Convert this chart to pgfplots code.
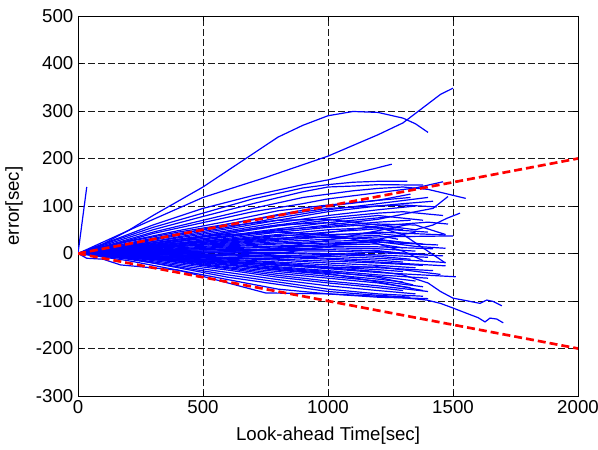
\documentclass[border=0pt]{standalone}
\usepackage{pgfplots}
\pgfplotsset{compat=1.18}
\usepackage{fontspec}
\setmainfont{Liberation Sans}
\pgfplotscreateplotcyclelist{bl}{blue,mark=none,line width=0.9pt\\}
\begin{document}
\begin{tikzpicture}
\begin{axis}[
 scale only axis, width=375pt, height=285pt,
 xmin=0, xmax=2000, ymin=-300, ymax=500,
 xtick={0,500,1000,1500,2000}, ytick={-300,-200,-100,0,100,200,300,400,500},
 scaled ticks=false,
 /pgf/number format/1000 sep={},
 grid=major,
 major grid style={black!90, dash pattern=on 5pt off 2.5pt, line width=0.6pt},
 tick align=inside, major tick length=4pt,
 tick style={black, line width=0.5pt},
 axis line style={black, line width=0.6pt},
 xlabel={Look-ahead Time[sec]}, ylabel={error[sec]},
 xlabel shift=3pt, ylabel shift=3pt,
 tick label style={font=\fontsize{14}{16}\selectfont},
 label style={font=\fontsize{14}{16}\selectfont},
 /pgf/number format/assume math mode=true,
 cycle list name=bl,
]
% upper lines
\addplot coordinates {(0,0)(100,20)(200,48)(300,80)(400,110)(500,140)(600,175)(700,210)(800,245)(900,270)(1000,290)(1100,299)(1200,297)(1300,285)(1350,273)(1400,255)};
\addplot coordinates {(0,0)(250,60)(500,118)(750,160)(1000,205)(1200,250)(1300,275)(1400,315)(1450,335)(1500,348)};
\addplot coordinates {(0,0)(150,30)(300,60)(500,95)(700,122)(900,145)(1000,155)(1100,168)(1180,178)(1255,188)};
\addplot coordinates {(0,0)(150,28)(300,55)(500,85)(700,115)(900,138)(1000,145)(1100,150)(1200,152)(1317,152)};
\addplot coordinates {(0,0)(150,25)(300,50)(500,78)(700,105)(900,130)(1000,140)(1100,142)(1200,145)(1380,144)};
\addplot coordinates {(0,0)(150,22)(300,45)(500,70)(700,95)(900,118)(1000,125)(1100,132)(1200,137)(1300,140)(1400,135)(1480,125)(1551,116)};
\addplot coordinates {(0,0)(150,20)(300,42)(500,65)(700,88)(900,105)(1000,115)(1200,128)(1350,138)(1460,151)};
\addplot coordinates {(0,0)(200,26)(400,48)(600,68)(800,90)(1000,102)(1200,112)(1330,118)};
\addplot coordinates {(0,0)(200,25)(400,45)(600,62)(800,80)(1000,95)(1200,100)(1300,102)(1435,98)};
\addplot coordinates {(0,0)(200,22)(400,42)(600,58)(800,70)(1000,72)(1200,60)(1350,50)(1420,60)(1475,74)(1528,85)};
\addplot coordinates {(0,0)(35,140)};
% fan
\addplot coordinates {(0,0)(200,20)(400,40)(600,62)(800,82)(1000,100)(1200,112)(1330,125)};
\addplot coordinates {(0,0)(200,18)(400,38)(600,55)(800,75)(1000,92)(1200,105)(1400,118)};
\addplot coordinates {(0,0)(200,15)(400,35)(600,52)(800,70)(1000,88)(1200,100)(1300,105)(1420,110)};
\addplot coordinates {(0,0)(200,17)(400,33)(600,48)(800,65)(1000,80)(1200,92)(1350,100)};
\addplot coordinates {(0,0)(200,12)(400,30)(600,45)(800,60)(1000,75)(1200,85)(1300,88)(1460,80)};
\addplot coordinates {(0,0)(200,14)(400,28)(600,42)(800,58)(1000,70)(1200,80)(1380,70)};
\addplot coordinates {(0,0)(200,10)(400,25)(600,38)(800,52)(1000,65)(1200,75)(1250,78)};
\addplot coordinates {(0,0)(200,12)(400,22)(600,35)(800,48)(1000,60)(1200,72)(1350,88)(1420,95)(1480,120)};
\addplot coordinates {(0,0)(200,8)(400,20)(600,32)(800,45)(1000,55)(1200,62)(1350,60)(1470,40)};
\addplot coordinates {(0,0)(200,10)(400,22)(600,30)(800,40)(1000,50)(1200,55)(1300,50)};
\addplot coordinates {(0,0)(200,6)(400,16)(600,26)(800,36)(1000,45)(1200,52)(1400,45)};
\addplot coordinates {(0,0)(200,9)(400,18)(600,28)(800,38)(1000,40)(1200,42)(1330,35)};
\addplot coordinates {(0,0)(200,5)(400,14)(600,24)(800,32)(1000,38)(1200,45)(1470,39)};
\addplot coordinates {(0,0)(200,7)(400,15)(600,20)(800,28)(1000,35)(1200,38)(1280,30)};
\addplot coordinates {(0,0)(200,4)(400,12)(600,18)(800,25)(1000,30)(1200,35)(1500,37)};
\addplot coordinates {(0,0)(200,6)(400,10)(600,16)(800,22)(1000,26)(1200,28)(1380,20)};
\addplot coordinates {(0,0)(200,3)(400,8)(600,14)(800,20)(1000,22)(1200,25)(1350,15)(1470,11)};
\addplot coordinates {(0,0)(200,5)(400,9)(600,12)(800,16)(1000,18)(1200,20)(1300,12)};
\addplot coordinates {(0,0)(200,2)(400,6)(600,10)(800,14)(1000,15)(1200,14)(1420,10)};
\addplot coordinates {(0,0)(200,4)(400,7)(600,8)(800,10)(1000,12)(1200,10)(1350,5)};
\addplot coordinates {(0,0)(200,1)(400,4)(600,6)(800,8)(1000,8)(1200,6)(1300,0)};
\addplot coordinates {(0,0)(200,3)(400,5)(600,5)(800,6)(1000,5)(1200,2)(1460,-5)};
\addplot coordinates {(0,0)(200,0)(400,2)(600,3)(800,2)(1000,0)(1200,-3)(1400,-8)};
\addplot coordinates {(0,0)(200,2)(400,3)(600,1)(800,0)(1000,-2)(1200,-6)(1330,-12)};
\addplot coordinates {(0,0)(200,-1)(400,0)(600,-2)(800,-4)(1000,-6)(1200,-10)(1470,-19)};
\addplot coordinates {(0,0)(200,1)(400,-1)(600,-3)(800,-6)(1000,-10)(1200,-14)(1300,-18)};
\addplot coordinates {(0,0)(200,-2)(400,-3)(600,-5)(800,-8)(1000,-12)(1200,-18)(1470,-26)};
\addplot coordinates {(0,0)(200,-1)(400,-4)(600,-8)(800,-12)(1000,-16)(1200,-20)(1380,-25)};
\addplot coordinates {(0,0)(200,-3)(400,-6)(600,-10)(800,-14)(1000,-20)(1200,-25)(1350,-30)};
\addplot coordinates {(0,0)(200,-2)(400,-7)(600,-12)(800,-18)(1000,-24)(1200,-30)(1420,-36)};
\addplot coordinates {(0,0)(200,-4)(400,-9)(600,-14)(800,-20)(1000,-28)(1200,-34)(1300,-38)};
\addplot coordinates {(0,0)(200,-3)(400,-10)(600,-16)(800,-24)(1000,-32)(1200,-40)(1511,-49)};
\addplot coordinates {(0,0)(200,-5)(400,-12)(600,-20)(800,-28)(1000,-36)(1200,-45)(1400,-52)};
\addplot coordinates {(0,0)(200,-4)(400,-13)(600,-22)(800,-32)(1000,-40)(1200,-48)(1350,-58)};
\addplot coordinates {(0,0)(200,-6)(400,-15)(600,-25)(800,-35)(1000,-44)(1200,-54)(1300,-60)};
\addplot coordinates {(0,0)(200,-5)(400,-16)(600,-28)(800,-38)(1000,-48)(1200,-58)(1380,-70)};
\addplot coordinates {(0,0)(200,-7)(400,-18)(600,-30)(800,-42)(1000,-52)(1200,-62)(1330,-72)};
\addplot coordinates {(0,0)(200,-6)(400,-19)(600,-32)(800,-46)(1000,-58)(1200,-68)(1400,-80)};
\addplot coordinates {(0,0)(200,-8)(400,-22)(600,-35)(800,-50)(1000,-62)(1200,-72)(1300,-78)};
\addplot coordinates {(0,0)(200,-10)(400,-25)(600,-40)(800,-55)(1000,-68)(1200,-78)(1350,-85)};
\addplot coordinates {(0,0)(200,-12)(400,-28)(600,-45)(800,-60)(1000,-75)(1200,-85)(1380,-90)};
\addplot coordinates {(0,0)(200,-10)(400,-30)(600,-50)(800,-65)(1000,-80)(1200,-88)(1330,-92)};
\addplot coordinates {(0,0)(35,-10)(100,-12)(170,-24)(400,-35)(550,-55)(750,-83)(1000,-85)(1200,-92)(1400,-95)};
% extra core lines
\addplot coordinates {(0,0)(200,8)(400,17)(600,22)(800,30)(1000,44)(1200,58)(1400,66)(1480,62)};
\addplot coordinates {(0,0)(200,-4)(400,-2)(600,4)(800,10)(1000,20)(1200,24)(1440,18)};
\addplot coordinates {(0,0)(200,2)(400,-4)(600,-10)(800,-10)(1000,-4)(1200,4)(1400,-2)};
\addplot coordinates {(0,0)(200,-6)(400,-12)(600,-18)(800,-30)(1000,-38)(1200,-50)(1340,-66)};
\addplot coordinates {(0,0)(200,10)(400,20)(600,28)(800,32)(1000,34)(1200,30)(1320,22)};
\addplot coordinates {(0,0)(200,-3)(400,-8)(600,-17)(800,-22)(1000,-30)(1200,-28)(1450,-44)};
\addplot coordinates {(0,0)(200,12)(400,26)(600,36)(800,50)(1000,57)(1200,66)(1330,70)};
\addplot coordinates {(0,0)(200,-8)(400,-14)(600,-24)(800,-34)(1000,-42)(1200,-60)(1380,-78)};
% crossing lines
\addplot coordinates {(0,0)(200,15)(400,30)(600,40)(800,45)(1000,40)(1200,20)(1300,5)(1380,-15)};
\addplot coordinates {(0,0)(200,-10)(400,-15)(600,-10)(800,0)(1000,15)(1200,30)(1350,45)};
\addplot coordinates {(0,0)(200,10)(400,25)(600,45)(800,60)(1000,65)(1200,55)(1300,40)(1470,-20)};
\addplot coordinates {(0,0)(200,-6)(400,-8)(600,0)(800,12)(1000,28)(1200,48)(1330,62)};
% long lower lines
\addplot coordinates {(0,0)(200,-5)(400,-12)(600,-18)(800,-25)(1000,-30)(1200,-38)(1300,-45)(1400,-62)(1450,-80)(1500,-94)(1560,-100)(1608,-105)(1635,-98)(1661,-101)(1695,-110)};
\addplot coordinates {(0,0)(200,-15)(400,-35)(600,-55)(800,-75)(1000,-85)(1200,-90)(1300,-93)(1395,-98)(1450,-105)(1501,-115)(1555,-126)(1600,-135)(1628,-144)(1648,-136)(1675,-138)(1701,-146)};
% red bounds
\addplot[red, line width=2pt, dash pattern=on 6pt off 3pt] coordinates {(0,0)(2000,200)};
\addplot[red, line width=2pt, dash pattern=on 6pt off 3pt] coordinates {(0,0)(2000,-200)};
\end{axis}
\pgfresetboundingbox
\useasboundingbox (-58.5pt,-39.75pt) rectangle (390pt,297pt);
\end{tikzpicture}
\end{document}
